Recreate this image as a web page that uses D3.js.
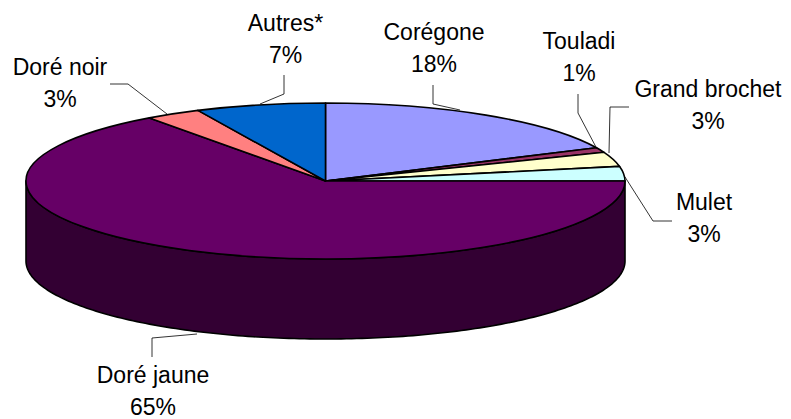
<!DOCTYPE html>
<html><head><meta charset="utf-8">
<script src="https://cdn.jsdelivr.net/npm/d3@7"></script>
<style>html,body{margin:0;background:#fff}svg{display:block}text{font-family:"Liberation Sans",Arial,sans-serif;font-size:23px;fill:#000}</style>
</head><body><svg width="791" height="419"></svg>
<script>
const categories = ["Corégone","Touladi","Grand brochet","Mulet","Doré jaune","Doré noir","Autres*"];
const values = [18,1,3,3,65,3,7];
const percentLabels = ["18%","1%","3%","3%","65%","3%","7%"];
const colors = ["#9999ff","#993366","#ffffcc","#ccffff","#660066","#ff8080","#0066cc"];
const sideColor = "#330033";
const cx=325.5, cy=181, rx=299.5, ry=78, depth=80;
const labelPos = [[434,40],[579,49],[708,97],[704,210],[153,383],[60,75],[285.5,31]];
const leaders = [
 [[433,85],[433,104],[460,110]],
 [[578,94],[578,113],[597,149]],
 [[629,107],[610,107],[609,153]],
 [[672,221],[653,221],[625,177]],
 [[152,357],[152,338],[197,334]],
 [[110,84],[128,84],[167,114]],
 [[284,75],[284,94],[260,104]]
];
const svg=d3.select("svg");
const pie=d3.pie().value(d=>d).sort(null)(values);
const px=a=>cx+rx*Math.sin(a), py=a=>cy-ry*Math.cos(a);
const steps=d3.range(0,181).map(i=>Math.PI/2+i*Math.PI/180);
const wall=[...steps.map(a=>[px(a),py(a)]),...steps.slice().reverse().map(a=>[px(a),py(a)+depth])];
svg.append("path").attr("d",d3.line()(wall)+"Z").attr("fill",sideColor).attr("stroke","#000").attr("stroke-width",1.6).attr("stroke-linejoin","round");
const arc=d3.arc().innerRadius(0).outerRadius(1);
svg.append("g").attr("transform",`translate(${cx},${cy}) scale(${rx},${ry})`)
 .selectAll("path").data(pie).join("path")
 .attr("d",arc).attr("fill",(d,i)=>colors[i]).attr("stroke","#000").attr("stroke-width",1.6)
 .attr("stroke-linejoin","round").attr("vector-effect","non-scaling-stroke");
svg.append("g").selectAll("path").data(leaders).join("path")
 .attr("d",d=>d3.line()(d)).attr("fill","none").attr("stroke","#000").attr("stroke-width",0.8);
const t=svg.append("g").selectAll("text").data(categories).join("text").attr("text-anchor","middle");
t.append("tspan").attr("x",(d,i)=>labelPos[i][0]).attr("y",(d,i)=>labelPos[i][1]).text(d=>d);
t.append("tspan").attr("x",(d,i)=>labelPos[i][0]).attr("y",(d,i)=>labelPos[i][1]+32).text((d,i)=>percentLabels[i]);
</script></body></html>
